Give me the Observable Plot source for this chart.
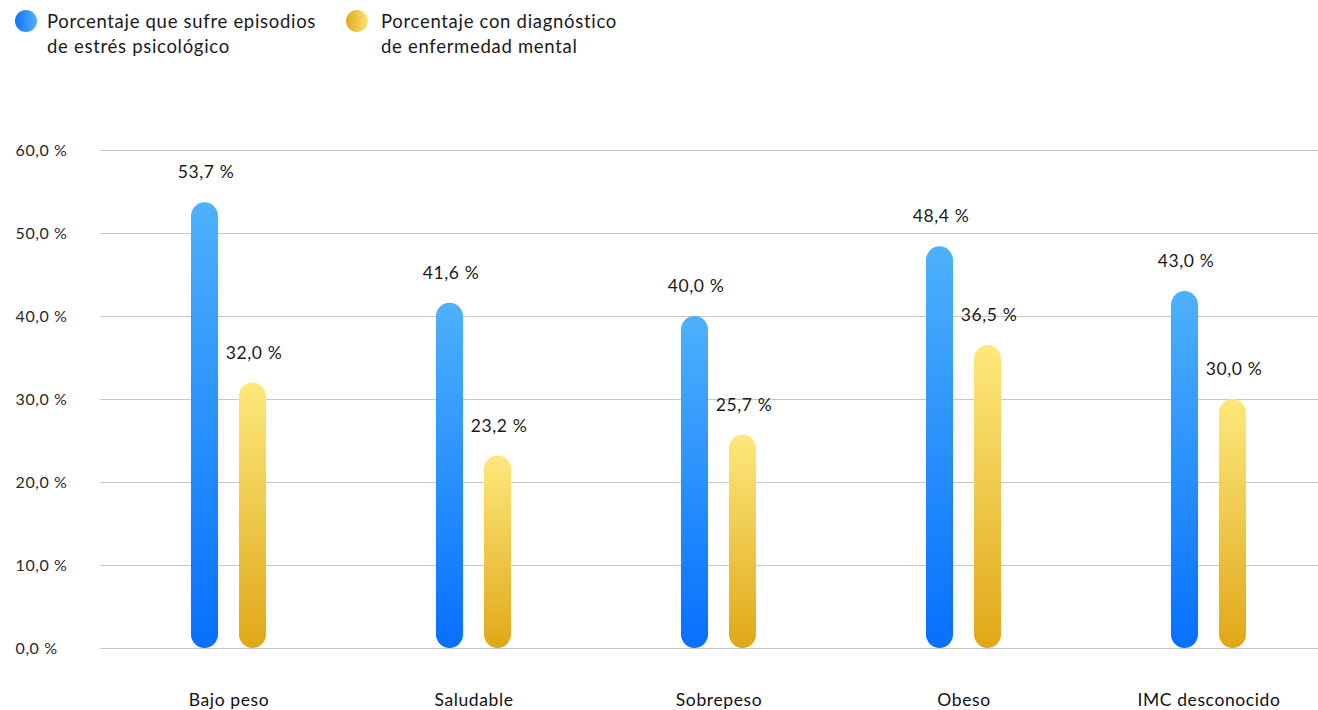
<!DOCTYPE html>
<html>
<head>
<meta charset="utf-8">
<script src="https://cdn.jsdelivr.net/npm/d3@7"></script>
<script src="https://cdn.jsdelivr.net/npm/@observablehq/plot@0.6"></script>
<style>
  html, body { margin: 0; padding: 0; background: #fff; }
  body { font-family: Lato, "Noto Sans", sans-serif; color: #1a1a1a; width: 1318px; }
  #legend { height: 70px; position: relative; }
  .item { position: absolute; top: 9px; display: flex; align-items: flex-start; font-size: 18.5px; line-height: 25px; letter-spacing: 0.7px; }
  .dot { width: 22px; height: 22px; border-radius: 50%; margin-top: 1px; margin-right: 10px; flex: none; }
  #chart svg { display: block; }
</style>
</head>
<body>
<div id="legend"></div>
<div id="chart"></div>
<script>
const categories = ["Bajo peso", "Saludable", "Sobrepeso", "Obeso", "IMC desconocido"];
const seriesNames = ["Porcentaje que sufre episodios de estrés psicológico", "Porcentaje con diagnóstico de enfermedad mental"];
const legendLines = [["Porcentaje que sufre episodios", "de estrés psicológico"], ["Porcentaje con diagnóstico", "de enfermedad mental"]];
const stressValues = [53.7, 41.6, 40.0, 48.4, 43.0];
const mentalValues = [32.0, 23.2, 25.7, 36.5, 30.0];
const yTicks = [0, 10, 20, 30, 40, 50, 60];

const fmt = v => v.toFixed(1).replace(".", ",") + " %";

const data = [];
categories.forEach((c, i) => {
  data.push({cat: c, series: 0, value: stressValues[i]});
  data.push({cat: c, series: 1, value: mentalValues[i]});
});

// legend
const legend = document.getElementById("legend");
const dotGrad = ["linear-gradient(to right, #1273ff, #52b0fb)", "linear-gradient(to right, #e2a81a, #fbe478)"];
const legendLeft = [15, 346];
legendLines.forEach((lines, i) => {
  const it = document.createElement("div");
  it.className = "item";
  it.style.left = legendLeft[i] + "px";
  it.title = seriesNames[i];
  const dot = document.createElement("div");
  dot.className = "dot";
  dot.style.background = dotGrad[i];
  if (i === 1) dot.style.marginRight = "13px";
  const txt = document.createElement("div");
  txt.innerHTML = lines.map(l => `<div>${l}</div>`).join("");
  it.appendChild(dot);
  it.appendChild(txt);
  legend.appendChild(it);
});

const defs = () => {
  const ns = "http://www.w3.org/2000/svg";
  const d = document.createElementNS(ns, "defs");
  const mk = (id, top, bottom) => {
    const g = document.createElementNS(ns, "linearGradient");
    g.setAttribute("id", id);
    g.setAttribute("x1", "0"); g.setAttribute("y1", "0");
    g.setAttribute("x2", "0"); g.setAttribute("y2", "1");
    [[0, top], [1, bottom]].forEach(([o, c]) => {
      const s = document.createElementNS(ns, "stop");
      s.setAttribute("offset", o);
      s.setAttribute("stop-color", c);
      g.appendChild(s);
    });
    d.appendChild(g);
  };
  mk("gBlue", "#4db1fb", "#0670ff");
  mk("gYellow", "#fde87c", "#e0a818");
  return d;
};

const step = 245.9;
const half = step / 2;
const firstCenter = 226.5;
const barW = 28, gap = 20;
const inL = [half - gap / 2 - barW, half + gap / 2];
const inR = [half + gap / 2, half - gap / 2 - barW];
const dxs = [-24, 24];

const chart = Plot.plot({
  width: 1318,
  height: 640,
  marginLeft: 100,
  marginRight: 0,
  marginTop: 80,
  marginBottom: 62,
  style: {fontFamily: "Lato, 'Noto Sans', sans-serif", background: "#fff", letterSpacing: "0.6px"},
  x: {domain: categories, range: [firstCenter - half, firstCenter - half + step * categories.length], padding: 0, label: null, axis: null},
  y: {domain: [0, 60], label: null, axis: null},
  marks: [
    defs,
    Plot.ruleY(yTicks, {stroke: "#c8c8c8", strokeWidth: 1}),
    Plot.text(yTicks, {y: d => d, frameAnchor: "left", textAnchor: "start", dx: -85, text: fmt, fontSize: 16, fill: "#2a2a2a"}),
    ...[0, 1].map(s => Plot.barY(data.filter(d => d.series === s), {
      x: "cat", y: "value",
      fill: s === 0 ? "url(#gBlue)" : "url(#gYellow)",
      insetLeft: inL[s], insetRight: inR[s], rx: 14
    })),
    ...[0, 1].map(s => Plot.text(data.filter(d => d.series === s), {
      x: "cat", y: "value", text: d => fmt(d.value),
      dx: dxs[s] + 1, dy: -30, fontSize: 17.5, fill: "#1a1a1a"
    })),
    Plot.axisX({tickSize: 0, tickPadding: 45, fontSize: 17.5, fill: "#111", label: null})
  ]
});
document.getElementById("chart").appendChild(chart);
</script>
</body>
</html>
